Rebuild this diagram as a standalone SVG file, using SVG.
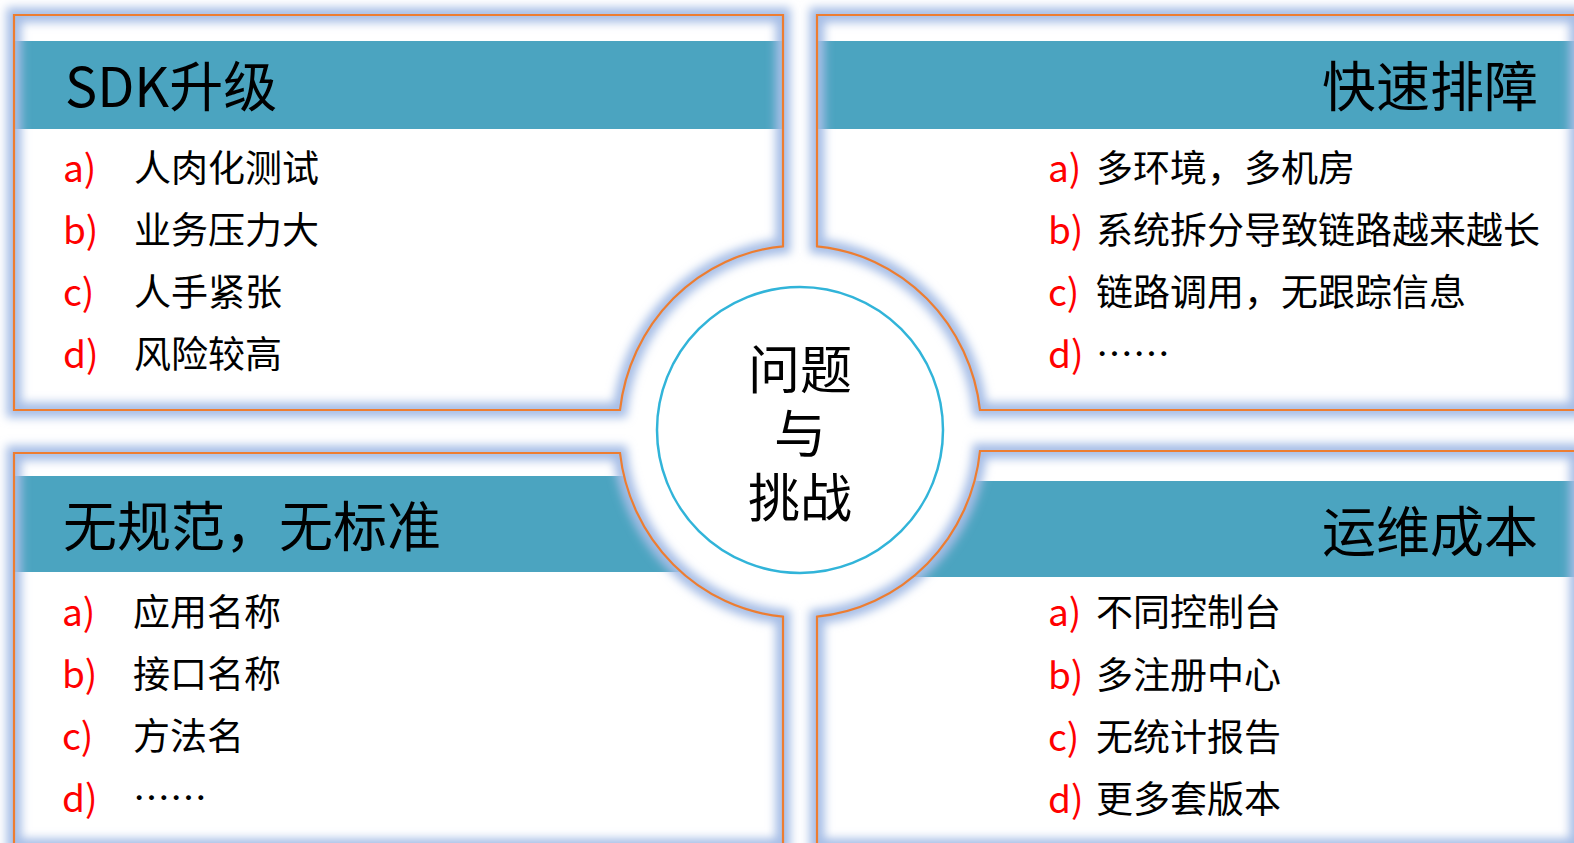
<svg xmlns="http://www.w3.org/2000/svg" width="1574" height="843" viewBox="0 0 1574 843">
<style>
  text { font-family: "Noto Sans CJK SC", "Noto Sans", sans-serif; }
  .panel { fill: #ffffff; }
  .band { fill: #4BA4C0; }
  .glow { fill: none; stroke: #a6bde6; stroke-width: 15; filter: url(#blur); }
  .edge { fill: none; stroke: #ED7D31; stroke-width: 2.2; }
  .title { font-size: 54px; fill: #000; }
  .lbl { font-size: 37px; fill: #FF0000; }
  .item { font-size: 37px; fill: #000; }
  .center { font-size: 52px; fill: #000; text-anchor: middle; }
</style>
<defs>
  <filter id="blur" x="-10%" y="-10%" width="120%" height="120%">
    <feGaussianBlur stdDeviation="5"/>
  </filter>
  <path id="pTL" d="M14,15 H783 V246.3 A181,186 0 0 0 620,410 H14 Z"/>
  <path id="pTR" d="M817,15 H1577 V410 H980 A181,186 0 0 0 817,246.3 Z"/>
  <path id="pBL" d="M14,453 H620 A181,186 0 0 0 783,616.7 V846 H14 Z"/>
  <path id="pBR" d="M817,616.7 A181,186 0 0 0 980,451 H1577 V846 H817 Z"/>
  <clipPath id="cTL"><use href="#pTL"/></clipPath>
  <clipPath id="cTR"><use href="#pTR"/></clipPath>
  <clipPath id="cBL"><use href="#pBL"/></clipPath>
  <clipPath id="cBR"><use href="#pBR"/></clipPath>
</defs>
<rect width="1574" height="843" fill="#ffffff"/>

<g id="connectors"></g>

<g id="panel-sdk">
  <use href="#pTL" class="panel"/>
  <rect class="band" x="0" y="41" width="800" height="88" clip-path="url(#cTL)"/>
  <use href="#pTL" class="glow"/>
  <use href="#pTL" class="edge"/>
  <text class="title" x="65" y="107">SDK升级</text>
  <text class="lbl" x="63" y="182">a)</text><text class="item" x="134" y="182">人肉化测试</text>
  <text class="lbl" x="63" y="244">b)</text><text class="item" x="134" y="244">业务压力大</text>
  <text class="lbl" x="63" y="306">c)</text><text class="item" x="134" y="306">人手紧张</text>
  <text class="lbl" x="63" y="368">d)</text><text class="item" x="134" y="368">风险较高</text>
</g>

<g id="panel-fast">
  <use href="#pTR" class="panel"/>
  <rect class="band" x="800" y="41" width="800" height="88" clip-path="url(#cTR)"/>
  <use href="#pTR" class="glow"/>
  <use href="#pTR" class="edge"/>
  <text class="title" x="1538" y="107" text-anchor="end">快速排障</text>
  <text class="lbl" x="1048" y="182">a)</text><text class="item" x="1096" y="182">多环境，多机房</text>
  <text class="lbl" x="1048" y="244">b)</text><text class="item" x="1096" y="244">系统拆分导致链路越来越长</text>
  <text class="lbl" x="1048" y="306">c)</text><text class="item" x="1096" y="306">链路调用，无跟踪信息</text>
  <text class="lbl" x="1048" y="368">d)</text><text class="item" x="1096" y="368">……</text>
</g>

<g id="panel-norm">
  <use href="#pBL" class="panel"/>
  <rect class="band" x="0" y="476" width="800" height="96" clip-path="url(#cBL)"/>
  <use href="#pBL" class="glow"/>
  <use href="#pBL" class="edge"/>
  <text class="title" x="63" y="547">无规范，无标准</text>
  <text class="lbl" x="62" y="626">a)</text><text class="item" x="133" y="626">应用名称</text>
  <text class="lbl" x="62" y="688">b)</text><text class="item" x="133" y="688">接口名称</text>
  <text class="lbl" x="62" y="750">c)</text><text class="item" x="133" y="750">方法名</text>
  <text class="lbl" x="62" y="812">d)</text><text class="item" x="133" y="812">……</text>
</g>

<g id="panel-ops">
  <use href="#pBR" class="panel"/>
  <rect class="band" x="800" y="481" width="800" height="96" clip-path="url(#cBR)"/>
  <use href="#pBR" class="glow"/>
  <use href="#pBR" class="edge"/>
  <text class="title" x="1538" y="552" text-anchor="end">运维成本</text>
  <text class="lbl" x="1048" y="626">a)</text><text class="item" x="1096" y="626">不同控制台</text>
  <text class="lbl" x="1048" y="689">b)</text><text class="item" x="1096" y="689">多注册中心</text>
  <text class="lbl" x="1048" y="751">c)</text><text class="item" x="1096" y="751">无统计报告</text>
  <text class="lbl" x="1048" y="813">d)</text><text class="item" x="1096" y="813">更多套版本</text>
</g>

<g id="center-node">
  <circle cx="800" cy="430" r="143" fill="#ffffff" stroke="#31B4D9" stroke-width="2.5"/>
  <text class="center"><tspan x="800" y="389">问题</tspan><tspan x="800" y="453">与</tspan><tspan x="800" y="517">挑战</tspan></text>
</g>
</svg>
